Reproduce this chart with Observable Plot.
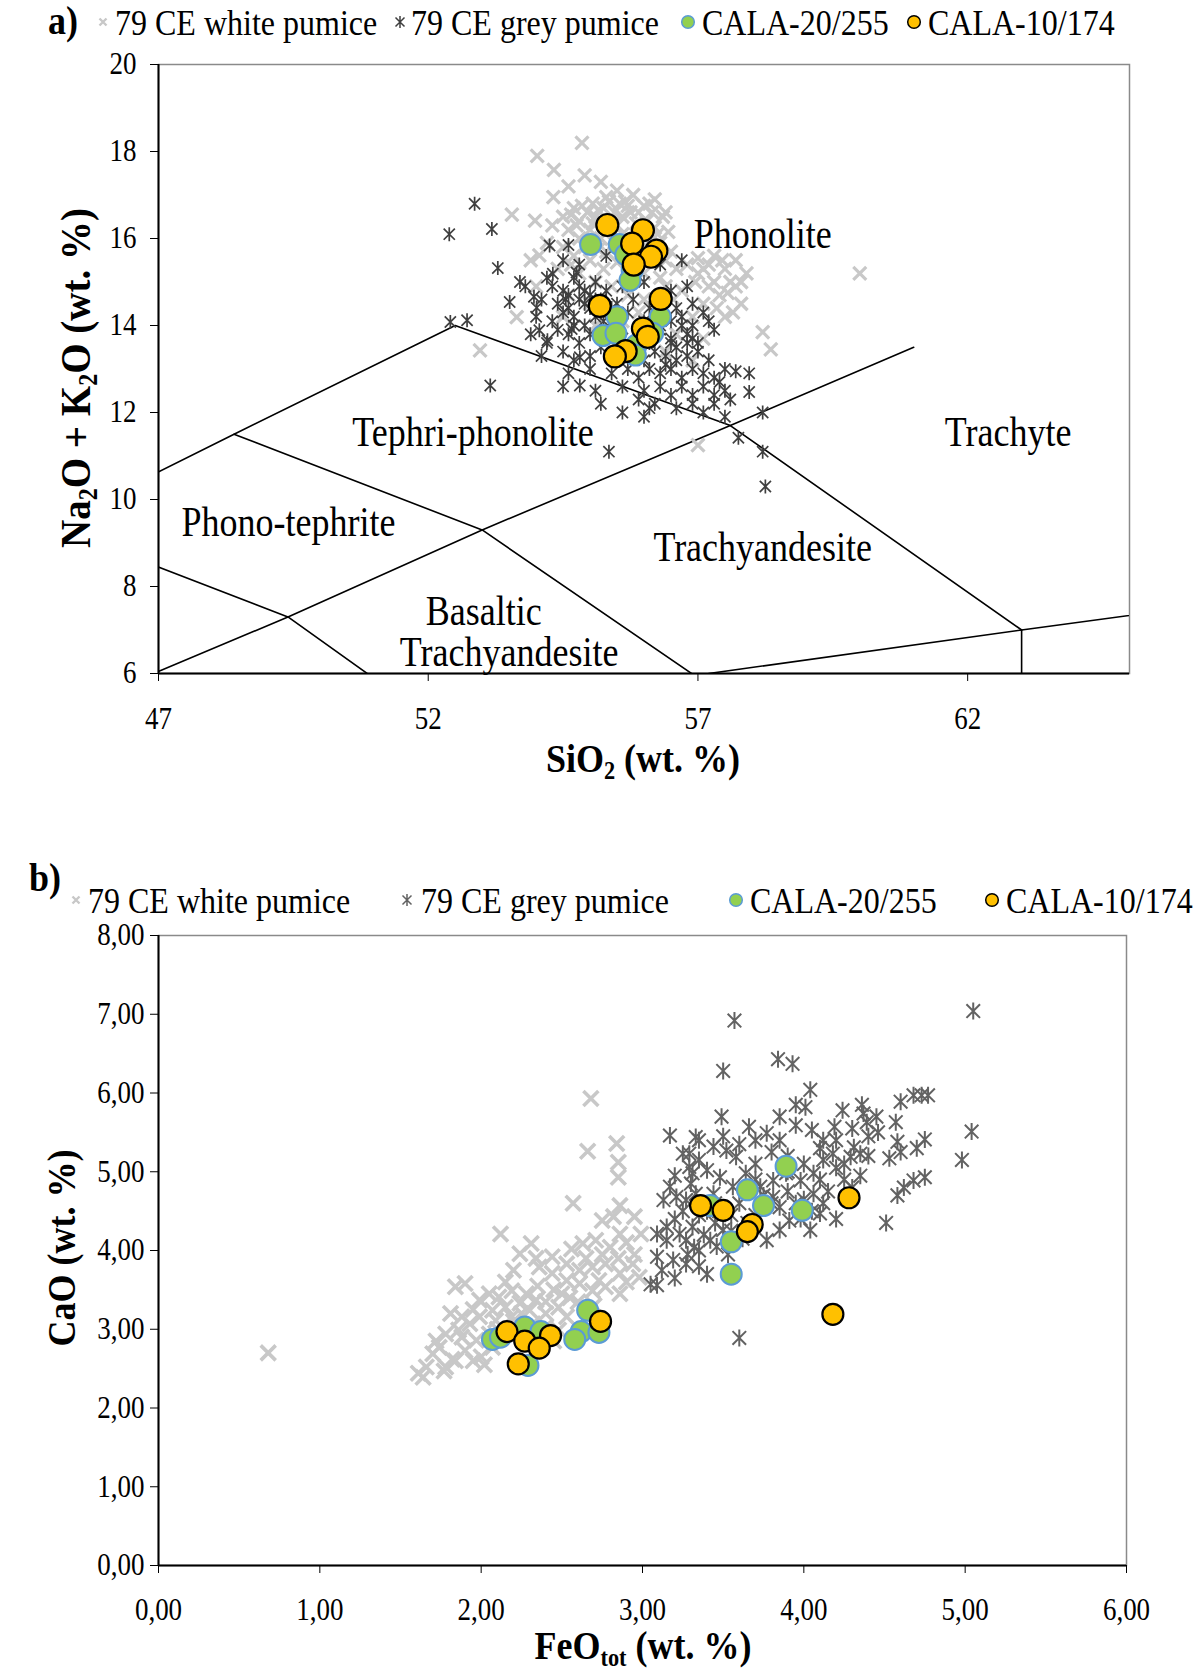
<!DOCTYPE html>
<html><head><meta charset="utf-8">
<script src="https://cdn.jsdelivr.net/npm/d3@7"></script>
<script src="https://cdn.jsdelivr.net/npm/@observablehq/plot@0.6"></script>
<style>
body{margin:0;background:#fff;font-family:"Liberation Serif","Times New Roman",serif;color:#000;}
#wrap{position:relative;width:1200px;height:1673px;overflow:hidden;background:#fff;}
.abs{position:absolute;white-space:nowrap;line-height:1;}
.panel{font-weight:bold;font-size:36px;transform:translate(-50%,-50%) scaleY(1.12);}
.legtxt{font-size:32px;transform:translateY(-50%) scaleY(1.15);}
.legmk{transform:translate(-50%,-50%);}
.ytitle{font-weight:bold;font-size:36px;transform:translate(-50%,-50%) rotate(-90deg) scaleY(1.1);}
.xtitle{font-weight:bold;font-size:36px;transform:translate(-50%,-50%) scaleY(1.1);}
sub{font-size:0.62em;line-height:0;vertical-align:-0.28em;}
</style></head>
<body>
<div id="wrap"></div>
<script>
// ---------------- DATA ----------------
const seriesNames = ["79 CE white pumice", "79 CE grey pumice", "CALA-20/255", "CALA-10/174"];

// Panel a: TAS (SiO2 vs Na2O+K2O)
const xTicksA = [47, 52, 57, 62];
const yTicksA = [6, 8, 10, 12, 14, 16, 18, 20];

const whiteTAS = [
[54.85,18.2],[54.02,17.9],[54.33,17.58],[54.32,16.95],[53.55,16.55],[53.98,16.41],[54.06,15.61],[53.64,14.19],[52.96,13.43],
[54.6,17.2],[54.9,17.45],[55.2,17.3],[55.5,17.1],[55.3,16.95],[55.8,17.0],[56.2,16.9],[56.0,16.75],[55.65,16.85],
[54.5,16.5],[54.7,16.7],[54.8,16.4],[54.95,16.6],[55.05,16.8],[55.1,16.5],[55.25,16.7],[55.35,16.4],[55.45,16.6],[55.55,16.8],[55.6,16.5],[55.75,16.6],[55.85,16.35],[55.9,16.6],[56.05,16.4],[56.15,16.6],[56.2,16.25],[56.35,16.5],[56.45,16.15],
[54.6,16.2],[54.8,16.0],[55.0,16.2],[55.2,16.0],[55.4,16.2],[55.6,16.1],[55.8,15.9],[56.0,16.0],[56.3,15.9],
[54.5,15.8],[54.7,15.6],[55.0,15.5],[55.3,15.7],[55.5,15.45],[55.7,15.3],[56.0,15.2],[56.2,15.5],[56.5,15.7],[56.6,15.3],
[54.3,16.3],[54.2,15.9],[54.4,15.3],[54.8,15.2],[55.1,15.0],[55.4,14.9],[55.7,14.7],[56.0,14.6],[56.4,14.9],[56.7,14.8],
[54.6,14.7],[55.0,14.5],[55.3,14.3],[55.6,14.1],[55.9,14.3],[56.2,14.0],[55.1,14.0],[55.4,13.7],[54.5,14.2],
[57.0,15.55],[57.2,15.4],[57.0,15.2],[57.3,15.0],[57.5,15.3],[57.7,15.5],[57.6,15.0],[57.4,14.7],[57.8,14.5],[57.1,14.5],[57.5,14.2],[56.9,14.2],[57.7,14.9],[57.9,15.2],[56.8,15.4],[57.2,14.9],[57.45,15.5],[57.1,15.3],
[60.0,15.2],[58.2,13.85],[58.35,13.45],[57.0,11.25],[54.0,14.9],[53.9,15.5],[57.1,13.7],[56.9,13.2],[56.4,13.4],[56.6,13.8],
[54.65,16.55],[54.85,16.75],[55.15,16.65],[55.35,16.85],[55.7,16.75],[56.1,16.8],[56.4,16.6],[54.75,16.3],[55.05,16.35],[55.3,16.25],[55.5,16.3],[55.95,16.2],[56.25,16.1],[54.9,15.8],[55.15,15.75],[55.45,15.9],[56.1,15.75],[56.4,15.5],[54.65,15.4],[55.25,15.3],[56.3,15.1],[56.55,14.6],[57.35,14.4],[57.65,14.3],[57.3,15.6],[57.8,15.0],[57.55,14.75],[56.95,15.0]
];

const greyTAS = [
[52.86,16.8],[52.39,16.1],[53.18,16.22],[53.29,15.32],[53.8,14.9],[53.51,14.54],[54.01,14.41],[54.25,15.84],[54.31,15.19],[54.06,13.89],[54.21,13.66],[52.41,14.08],[52.72,14.12],[53.15,12.62],[54.81,12.62],[54.81,13.27],[54.66,13.92],[55.35,11.1],[58.25,10.3],[58.2,11.1],[57.75,11.42],[58.2,12.0],[57.7,12.95],[57.95,12.9],[57.95,12.47],[53.96,14.66],[54.75,15.22],
[54.5,15.5],[54.8,15.4],[55.3,15.6],[56.3,15.4],[56.7,15.5],[54.2,15.1],
[54.3,14.9],[54.7,15.1],[54.9,14.8],[55.1,15.0],[55.6,14.9],[56.0,15.0],[56.5,14.8],[56.8,14.9],
[54.1,14.6],[54.4,14.5],[54.6,14.7],[54.8,14.6],[55.0,14.4],[55.2,14.6],[55.5,14.5],[55.8,14.6],[56.1,14.4],[56.4,14.6],[56.6,14.4],[56.9,14.5],[57.1,14.3],
[54.0,14.2],[54.3,14.1],[54.5,14.3],[54.7,14.2],[54.9,14.0],[55.1,14.2],[55.4,14.1],[55.7,14.3],[56.0,14.1],[56.2,14.3],[56.5,14.1],[56.7,14.2],[56.9,14.0],[57.2,14.1],
[53.9,13.8],[54.2,13.6],[54.4,13.9],[54.6,13.8],[54.8,13.6],[55.0,13.8],[55.3,13.9],[55.6,13.7],[55.9,13.8],[56.1,13.6],[56.3,13.9],[56.5,13.7],[56.8,13.8],[57.0,13.6],[57.3,13.9],
[54.1,13.3],[54.5,13.4],[54.7,13.2],[55.0,13.3],[55.2,13.5],[55.5,13.3],[55.8,13.4],[56.0,13.2],[56.2,13.4],[56.4,13.3],[56.6,13.5],[56.8,13.3],[57.0,13.4],[57.2,13.2],
[54.6,12.9],[55.0,13.0],[55.4,12.9],[55.7,13.0],[55.9,12.8],[56.1,13.0],[56.3,12.9],[56.5,13.0],[56.7,12.8],[56.9,13.0],[57.1,12.9],[57.3,12.8],[57.5,13.0],
[54.5,12.6],[55.1,12.5],[55.6,12.6],[56.0,12.5],[56.3,12.6],[56.5,12.4],[56.7,12.6],[56.9,12.4],[57.1,12.6],[57.3,12.4],[57.5,12.5],
[55.2,12.2],[56.2,12.2],[56.6,12.1],[56.9,12.2],[57.1,12.0],[57.3,12.2],[57.5,11.9],[56.0,11.9],
[54.5,14.8],[54.6,14.4],[54.8,14.9],[55.0,14.7],[55.2,14.3],[55.3,14.8],[54.9,14.5],[55.4,14.4],[54.7,14.0],[55.1,14.6],[54.55,14.6],[55.25,14.1],
[56.3,14.0],[56.5,13.6],[56.8,13.6],[56.6,13.2],[56.9,13.7],[56.4,13.1],[56.7,14.0],
[55.6,12.0],[55.9,12.3],[56.1,12.1],[57.6,12.3],[57.4,12.7],[53.7,15.0],[54.6,15.85]
];

const greenTAS = [
[55.01,15.86],[55.54,15.86],[55.66,15.63],[55.78,15.27],[55.74,15.04],[55.5,14.2],[56.3,14.2],[55.24,13.77],[55.48,13.82],[55.86,13.55],[55.84,13.32],[56.16,13.82]
];

const orangeTAS = [
[55.32,16.31],[55.98,16.19],[55.78,15.88],[56.23,15.72],[56.13,15.58],[55.81,15.40],[56.31,14.61],[55.18,14.45],[55.98,13.93],[56.07,13.74],[55.66,13.41],[55.46,13.29]
];

// TAS classification boundaries (Le Bas et al. 1986)
const tasBoundaries = [
  [[45,9.4],[48.4,11.5],[52.5,14],[57.6,11.7],[63,7]],
  [[45,5],[49.4,7.3],[53,9.3],[57.6,11.7],[61,13.5]],
  [[48.4,11.5],[53,9.3],[57,5.9]],
  [[45,9.4],[49.4,7.3],[52,5]],
  [[57.2,6],[63,7],[69,8]],
  [[63,7],[63,5]]
];

const tasFieldNames = ["Phonolite","Tephri-phonolite","Trachyte","Phono-tephrite","Trachyandesite","Basaltic","Trachyandesite"];
const tasFieldX = [58.2, 52.83, 62.75, 49.41, 58.2, 53.03, 53.5];
const tasFieldY = [16.08, 11.54, 11.54, 9.46, 8.9, 7.43, 6.47];

// Panel b: FeOtot vs CaO
const xTicksB = [0, 1, 2, 3, 4, 5, 6];
const yTicksB = [0, 1, 2, 3, 4, 5, 6, 7, 8];

const whiteFeCa = [
[0.68,2.70],[2.68,5.93],[2.66,5.26],[2.84,5.36],[2.85,5.12],[2.85,4.93],[2.57,4.60],[2.12,4.21],[2.31,4.09],[2.86,4.57],[2.75,4.38],[2.82,4.43],[2.95,4.43],[2.99,4.21],
[2.24,3.96],[2.34,3.90],[2.44,3.92],[2.56,4.02],[2.63,4.09],[2.71,4.13],[2.80,4.04],[2.86,4.21],
[2.53,3.83],[2.61,3.75],[2.69,3.79],[2.77,3.83],[2.86,3.71],[2.94,3.83],[2.98,3.66],
[2.61,3.58],[2.69,3.49],[2.77,3.54],[2.86,3.45],[2.73,3.62],[2.53,3.62],[2.44,3.71],[2.36,3.79],
[1.84,3.54],[1.90,3.58],
[1.81,3.20],[1.88,3.16],[1.99,3.37],[2.05,3.45],[2.11,3.41],[2.19,3.49],[2.28,3.45],[2.34,3.37],[2.24,3.33],[2.15,3.28],[2.07,3.24],[1.99,3.16],[1.93,3.07],[1.86,2.99],[1.78,2.94],[1.74,2.77],[1.70,2.69],[1.66,2.52],[1.61,2.44],[2.09,3.11],[2.19,3.16],[2.30,3.24],[2.40,3.20],[2.48,3.28],[2.53,3.16],[2.32,3.07],[2.40,3.03],[2.48,2.99],[2.05,2.94],[1.97,2.86],[1.90,2.73],[1.84,2.60],[1.78,2.52],[2.07,2.77],[2.15,2.94],
[1.64,2.39],[1.77,2.47],[1.82,2.62],[2.02,2.55],[2.0,2.65],[2.2,3.1],[2.3,2.95],[1.95,2.6],[2.45,2.85],[2.6,3.35],[2.7,3.3],[2.9,3.6],[2.95,3.95],[2.9,4.1],[2.5,3.45],[2.15,3.6],
[2.2,3.75],[2.35,3.55],[2.45,3.5],[2.55,3.4],[2.65,3.9],[2.75,3.95],[2.85,3.9],[2.4,3.35],[1.95,3.25],[2.1,3.0],[2.25,3.2],[1.72,2.85],[1.88,2.9]
];

const greyFeCa = [
[3.57,6.92],[5.05,7.04],[3.50,6.28],[3.84,6.43],[3.93,6.37],[4.04,6.04],[4.60,5.89],[4.68,5.97],[4.73,5.97],[4.77,5.97],[3.95,5.85],[4.01,5.82],[3.49,5.70],[4.24,5.78],[4.36,5.85],[4.37,5.74],[4.39,5.63],[4.57,5.63],[5.04,5.51],[4.75,5.41],[4.58,5.38],[4.53,5.17],[4.98,5.15],[4.68,4.89],[4.75,4.93],[4.58,4.70],[4.51,4.35],
[3.66,5.57],[3.77,5.49],[3.85,5.40],[3.95,5.59],[4.05,5.53],[4.12,5.40],[4.19,5.57],[4.20,5.40],[4.31,5.31],[4.35,5.23],[4.29,5.19],[4.18,5.23],[4.12,5.15],[4.06,4.98],[3.98,4.89],[3.89,4.98],[3.81,4.89],[3.73,4.81],[3.64,4.98],[3.58,5.19],[3.52,5.27],[3.44,5.32],[3.35,5.40],[3.29,5.23],[3.31,4.98],[3.40,5.02],[3.48,4.93],[3.56,4.81],[3.33,4.72],[3.27,4.64],[3.44,4.72],[3.81,4.68],[3.85,4.55],[3.91,4.38],[4.06,4.72],[4.12,4.60],[4.10,4.47],[4.04,4.26],[3.85,4.26],[3.77,4.13],[3.50,4.26],[3.42,4.13],[3.31,4.30],[3.27,4.13],[3.35,4.00],
[3.17,5.46],[3.33,5.44],[3.25,5.23],[3.29,5.06],[3.17,4.81],[3.21,4.68],[3.13,4.64],[3.09,4.21],[3.15,4.13],[3.23,4.21],[3.32,4.04],[3.09,3.92],[3.19,3.88],[3.27,3.83],[3.09,3.56],
[3.60,2.89],[3.05,3.57],
[3.4,4.5],[3.45,4.35],[3.55,4.45],[3.6,4.6],[3.7,4.45],[3.75,4.7],[3.9,4.75],[3.95,4.6],[4.0,5.1],[4.1,5.3],[4.2,5.05],[4.25,4.9],[3.7,5.1],[3.8,5.25],[3.6,5.35],[3.9,5.2],[3.35,4.45],[3.25,4.5],[3.2,4.4],[3.38,4.2],[3.46,4.05],[3.53,3.95],[3.62,4.15],[3.12,3.75],[3.2,3.65],[3.28,3.95],[3.35,3.8],[3.4,3.7],[4.3,5.55],[4.4,5.45],[4.46,5.5],[4.3,4.8],[4.35,4.95],[4.15,4.75],[4.05,4.5],[3.98,4.4],[4.2,4.4],[4.6,5.25],[4.7,5.3],[4.62,4.8],
[3.15,4.3],[3.3,4.85],[3.45,4.6],[3.55,4.25],[3.65,4.35],[3.7,4.9],[3.8,4.6],[3.9,5.0],[4.0,4.65],[4.1,4.9],[4.25,5.1],[4.4,5.2],[3.2,4.95],[3.35,5.15],[3.5,5.45],[3.7,5.4],[3.85,5.7],[4.45,5.7]
];

const greenFeCa = [
[2.07,2.87],[2.12,2.90],[2.27,3.03],[2.37,2.97],[2.29,2.54],[2.66,3.24],[2.62,2.97],[2.58,2.87],[2.73,2.96],[3.89,5.07],[3.65,4.77],[3.75,4.57],[3.99,4.51],[3.55,4.11],[3.42,4.57],[3.55,3.70]
];

const orangeFeCa = [
[2.16,2.97],[2.27,2.85],[2.43,2.92],[2.36,2.76],[2.23,2.56],[2.74,3.10],[3.36,4.57],[3.50,4.51],[3.68,4.33],[3.65,4.24],[4.28,4.67],[4.18,3.19]
];

// ---------------- RENDER ----------------
const FONT = '"Liberation Serif","Times New Roman",serif';
const wrap = document.getElementById("wrap");
const C = {white: "#c8c8c8", greyA: "#3f3f3f", greyB: "#626262", green: "#92d050", greenStroke: "#5b9bd5", orange: "#ffc000"};

const crossSym = {draw(ctx, size) {const h = Math.sqrt(size / Math.PI); ctx.moveTo(-h, -h); ctx.lineTo(h, h); ctx.moveTo(-h, h); ctx.lineTo(h, -h);}};
const starSym = {draw(ctx, size) {const h = Math.sqrt(size / Math.PI); const a = 0.8 * h; ctx.moveTo(0, -h); ctx.lineTo(0, h); ctx.moveTo(-a, -a); ctx.lineTo(a, a); ctx.moveTo(-a, a); ctx.lineTo(a, -a);}};

function el(html, cls, left, top) {
  const d = document.createElement("div");
  d.className = "abs " + cls;
  d.style.left = left + "px"; d.style.top = top + "px";
  d.innerHTML = html;
  wrap.appendChild(d);
  return d;
}
function markerSVG(i, greyColor) {
  if (i === 0) return `<svg width="16" height="16" style="display:block"><path d="M4.5,4.5L11.5,11.5M4.5,11.5L11.5,4.5" stroke="${C.white}" stroke-width="2.4" fill="none"/></svg>`;
  if (i === 1) return `<svg width="16" height="16" style="display:block"><path d="M8,2V14M3.5,3.5L12.5,12.5M3.5,12.5L12.5,3.5" stroke="${greyColor}" stroke-width="1.5" fill="none"/></svg>`;
  if (i === 2) return `<svg width="16" height="16" style="display:block"><circle cx="8" cy="8" r="6.3" fill="${C.green}" stroke="${C.greenStroke}" stroke-width="1.5"/></svg>`;
  return `<svg width="16" height="16" style="display:block"><circle cx="8" cy="8" r="6.3" fill="${C.orange}" stroke="#000" stroke-width="1.5"/></svg>`;
}
function legend(markX, textX, y, greyColor) {
  seriesNames.forEach((name, i) => {
    el(markerSVG(i, greyColor), "legmk", markX[i], y);
    el(name, "legtxt", textX[i], y);
  });
}
// stretch SVG text vertically a little (reference uses tall, narrow glyphs)
function tallText(svg, k) {
  svg.querySelectorAll("text").forEach(t => {
    const tr = t.getAttribute("transform");
    if (tr && tr.startsWith("translate")) t.setAttribute("transform", tr + ` scale(1,${k})`);
  });
}
const fmtComma = d => d3.format(".2f")(d).replace(".", ",");
const px = d => d[0], py = d => d[1];

// ---- Panel a ----
const tasRows = tasBoundaries.flatMap((seg, i) => seg.map(([x, y]) => ({x, y, seg: i})));
const tasFields = tasFieldNames.map((name, i) => ({name, x: tasFieldX[i], y: tasFieldY[i]}));

const plotA = Plot.plot({
  width: 1200, height: 740,
  marginTop: 64, marginBottom: 67, marginLeft: 158, marginRight: 71,
  style: {fontFamily: FONT, fontSize: "27px", color: "#000", background: "transparent", overflow: "visible"},
  x: {domain: [47, 65], label: null},
  y: {domain: [6, 20], label: null},
  marks: [
    Plot.frame({stroke: "#8a8a8a", strokeWidth: 1.5}),
    Plot.line(tasRows, {x: "x", y: "y", z: "seg", stroke: "#000", strokeWidth: 1.6, clip: true}),
    Plot.text(tasFields, {x: "x", y: "y", text: "name", fontSize: 36, fill: "#000"}),
    Plot.dot(whiteTAS, {x: px, y: py, symbol: crossSym, r: 6.5, stroke: C.white, strokeWidth: 3.2, fill: "none"}),
    Plot.dot(greyTAS, {x: px, y: py, symbol: starSym, r: 7, stroke: C.greyA, strokeWidth: 1.7, fill: "none"}),
    Plot.dot(greenTAS, {x: px, y: py, r: 10.5, fill: C.green, stroke: C.greenStroke, strokeWidth: 2}),
    Plot.dot(orangeTAS, {x: px, y: py, r: 11, fill: C.orange, stroke: "#000", strokeWidth: 2.2}),
    Plot.axisX({ticks: xTicksA, tickSize: 8, tickPadding: 25, label: null, fontSize: 27, stroke: "#000"}),
    Plot.axisY({ticks: yTicksA, tickSize: 8, tickPadding: 14, label: null, fontSize: 27, stroke: "#000"}),
    Plot.ruleX([47], {stroke: "#000", strokeWidth: 2}),
    Plot.ruleY([6], {stroke: "#000", strokeWidth: 2})
  ]
});
tallText(plotA, 1.15);
const holdA = el("", "", 0, 0); holdA.appendChild(plotA);

el("a)", "panel", 63, 21);
legend([103, 400, 688, 914], [115, 411, 702, 928], 22, C.greyA);
el("Na<sub>2</sub>O + K<sub>2</sub>O (wt. %)", "ytitle", 75, 378).style.fontSize = "39px";
el("SiO<sub>2</sub> (wt. %)", "xtitle", 643, 759);

// ---- Panel b ----
const topB = 900;
const plotB = Plot.plot({
  width: 1200, height: 720,
  marginTop: 35, marginBottom: 55, marginLeft: 158, marginRight: 74,
  style: {fontFamily: FONT, fontSize: "27px", color: "#000", background: "transparent", overflow: "visible"},
  x: {domain: [0, 6], label: null},
  y: {domain: [0, 8], label: null},
  marks: [
    Plot.frame({stroke: "#8a8a8a", strokeWidth: 1.5}),
    Plot.dot(whiteFeCa, {x: px, y: py, symbol: crossSym, r: 7.5, stroke: C.white, strokeWidth: 3.6, fill: "none"}),
    Plot.dot(greyFeCa, {x: px, y: py, symbol: starSym, r: 8.5, stroke: C.greyB, strokeWidth: 2, fill: "none"}),
    Plot.dot(greenFeCa, {x: px, y: py, r: 10.5, fill: C.green, stroke: C.greenStroke, strokeWidth: 2}),
    Plot.dot(orangeFeCa, {x: px, y: py, r: 10.5, fill: C.orange, stroke: "#000", strokeWidth: 2.2}),
    Plot.axisX({ticks: xTicksB, tickFormat: fmtComma, tickSize: 8, tickPadding: 24, label: null, fontSize: 27, stroke: "#000"}),
    Plot.axisY({ticks: yTicksB, tickFormat: fmtComma, tickSize: 8, tickPadding: 6, label: null, fontSize: 27, stroke: "#000"}),
    Plot.ruleX([0], {stroke: "#000", strokeWidth: 2}),
    Plot.ruleY([0], {stroke: "#000", strokeWidth: 2})
  ]
});
tallText(plotB, 1.15);
const holdB = el("", "", 0, topB); holdB.appendChild(plotB);

el("b)", "panel", 45, 878);
legend([76, 407, 736, 992], [88, 421, 750, 1006], 900, C.greyB);
el("CaO (wt. %)", "ytitle", 62, 1248);
el("FeO<sub>tot</sub> (wt. %)", "xtitle", 643, 1646);
</script>
</body></html>
